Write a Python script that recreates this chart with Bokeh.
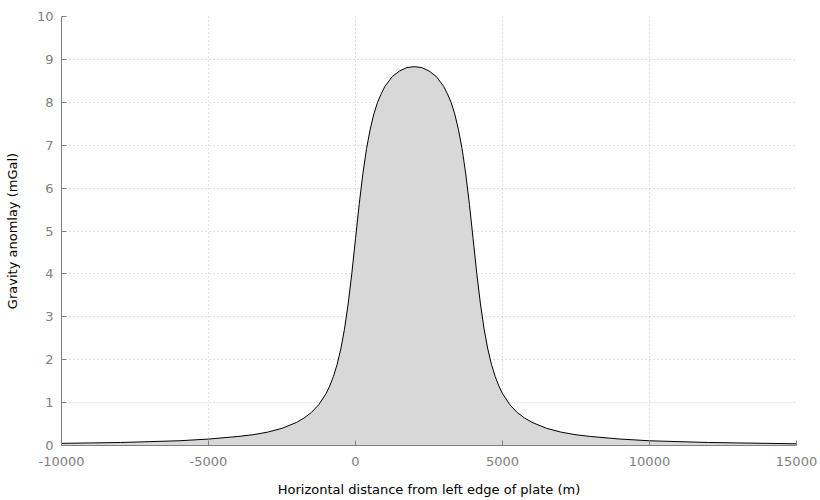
from bokeh.plotting import figure
from bokeh.models import Range1d, FixedTicker
from bokeh.embed import file_html
from bokeh.resources import INLINE

# Horizontal distance from left edge of plate (m)
distance_m = [-10000, -9000, -8000, -7000, -6000, -5000, -4000, -3500, -3000, -2500,
              -2000, -1750, -1500, -1250, -1000, -875, -750, -625, -500, -375, -250, -125,
              0, 125, 250, 375, 500, 625, 750, 875, 1000, 1250, 1500, 1750, 2000,
              2250, 2500, 2750, 3000, 3125, 3250, 3375, 3500, 3625, 3750, 3875,
              4000, 4125, 4250, 4375, 4500, 4625, 4750, 4875, 5000, 5250, 5500, 5750,
              6000, 6500, 7000, 7500, 8000, 9000, 10000, 11000, 12000, 13000, 14000, 15000]
# Gravity anomaly (mGal)
anomaly_mgal = [0.05, 0.06, 0.07, 0.09, 0.11, 0.15, 0.21, 0.25, 0.31, 0.40,
                0.54, 0.64, 0.77, 0.95, 1.21, 1.39, 1.61, 1.89, 2.25, 2.71, 3.30, 4.01,
                4.82, 5.62, 6.33, 6.92, 7.37, 7.73, 8.00, 8.20, 8.37, 8.60, 8.73, 8.81, 8.83,
                8.81, 8.73, 8.60, 8.37, 8.20, 8.00, 7.73, 7.37, 6.92, 6.33, 5.62,
                4.82, 4.01, 3.30, 2.71, 2.25, 1.89, 1.61, 1.39, 1.21, 0.95, 0.77, 0.64,
                0.54, 0.40, 0.31, 0.25, 0.21, 0.15, 0.11, 0.09, 0.07, 0.06, 0.05, 0.04]

x_ticks = [-10000, -5000, 0, 5000, 10000, 15000]
x_tick_labels = ["-10000", "-5000", "0", "5000", "10000", "15000"]
y_ticks = [0, 1, 2, 3, 4, 5, 6, 7, 8, 9, 10]

p = figure(width=820, height=500, output_backend="svg", toolbar_location=None,
           x_range=Range1d(-10000, 15000), y_range=Range1d(0, 10),
           min_border_left=61, min_border_right=24, min_border_top=16, min_border_bottom=55)
p.outline_line_color = None
p.background_fill_color = "white"

p.varea(x=distance_m, y1=0, y2=anomaly_mgal, fill_color="#d8d8d8")
p.line(x=distance_m, y=anomaly_mgal, line_color="black", line_width=1)

for ax in (p.xaxis[0], p.yaxis[0]):
    ax.axis_line_color = "#808080"
    ax.major_tick_line_color = "#808080"
    ax.major_tick_in = 5
    ax.major_tick_out = 0
    ax.minor_tick_line_color = None
    ax.major_label_text_color = "#808080"
    ax.major_label_text_font = "DejaVu Sans"
    ax.major_label_text_font_size = "13px"
    ax.axis_label_text_font = "DejaVu Sans"
    ax.axis_label_text_font_size = "13px"
    ax.axis_label_text_font_style = "normal"
    ax.axis_label_text_color = "black"

p.xaxis[0].ticker = FixedTicker(ticks=x_ticks)
p.xaxis[0].major_label_overrides = {t: s for t, s in zip(x_ticks, x_tick_labels)}
p.yaxis[0].ticker = FixedTicker(ticks=y_ticks)
p.xaxis[0].axis_label = "Horizontal distance from left edge of plate (m)"
p.yaxis[0].axis_label = "Gravity anomlay (mGal)"
p.xaxis[0].major_label_standoff = 11
p.xaxis[0].axis_label_standoff = 13
p.yaxis[0].major_label_standoff = 8
p.yaxis[0].axis_label_standoff = 14

for g in (p.xgrid[0], p.ygrid[0]):
    g.grid_line_color = "#c0c0c0"
    g.grid_line_dash = "1 3"
    g.grid_line_width = 1

open("out.html", "w").write(file_html(p, INLINE))
